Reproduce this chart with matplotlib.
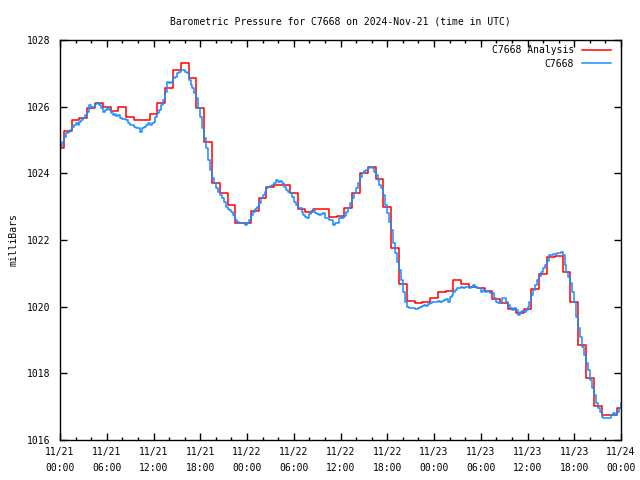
import matplotlib
matplotlib.use("Agg")
import matplotlib.pyplot as plt
import numpy as np

# ---- data (hours since 2024-11-21 00:00 UTC) ----
analysis_hours = list(range(0, 73))
analysis_values = [
    1024.75, 1025.28, 1025.59, 1025.65, 1025.95, 1026.12, 1025.98, 1025.87, 1025.98, 1025.70,
    1025.59, 1025.59, 1025.77, 1026.12, 1026.55, 1027.09, 1027.31, 1026.85, 1025.97, 1024.93,
    1023.70, 1023.40, 1023.05, 1022.50, 1022.50, 1022.87, 1023.25, 1023.58, 1023.64, 1023.64,
    1023.40, 1022.92, 1022.85, 1022.92, 1022.92, 1022.68, 1022.73, 1022.95, 1023.40, 1024.00,
    1024.20, 1023.83, 1023.00, 1021.75, 1020.68, 1020.17, 1020.10, 1020.15, 1020.25, 1020.43,
    1020.48, 1020.79, 1020.67, 1020.60, 1020.57, 1020.47, 1020.22, 1020.12, 1019.92, 1019.82,
    1019.92, 1020.52, 1020.98, 1021.50, 1021.52, 1021.05, 1020.13, 1018.84, 1017.85, 1017.02,
    1016.75, 1016.75, 1016.95,
]

obs_step_hours = 0.25
obs_values = [
    1024.80, 1024.95, 1025.10, 1025.20, 1025.23, 1025.30, 1025.40, 1025.45, 1025.50, 1025.45,
    1025.55, 1025.60, 1025.65, 1025.75, 1025.85, 1026.05, 1026.00, 1026.00, 1026.07, 1026.10,
    1026.05, 1025.95, 1025.85, 1025.90, 1025.95, 1025.90, 1025.80, 1025.75, 1025.77, 1025.73,
    1025.75, 1025.65, 1025.63, 1025.63, 1025.60, 1025.50, 1025.45, 1025.45, 1025.40, 1025.35,
    1025.37, 1025.25, 1025.35, 1025.40, 1025.45, 1025.50, 1025.45, 1025.50, 1025.55, 1025.70,
    1025.80, 1025.90, 1026.05, 1026.20, 1026.45, 1026.75, 1026.70, 1026.75, 1026.85, 1026.90,
    1027.00, 1027.05, 1027.10, 1027.10, 1027.05, 1027.00, 1026.80, 1026.65, 1026.55, 1026.40,
    1026.25, 1025.95, 1025.70, 1025.35, 1025.05, 1024.75, 1024.40, 1024.10, 1023.85, 1023.70,
    1023.55, 1023.45, 1023.35, 1023.25, 1023.15, 1023.00, 1022.93, 1022.90, 1022.85, 1022.75,
    1022.60, 1022.55, 1022.50, 1022.50, 1022.50, 1022.45, 1022.50, 1022.60, 1022.75, 1022.85,
    1022.93, 1023.00, 1023.10, 1023.25, 1023.35, 1023.45, 1023.55, 1023.60, 1023.63, 1023.65,
    1023.70, 1023.80, 1023.75, 1023.77, 1023.70, 1023.60, 1023.50, 1023.45, 1023.40, 1023.30,
    1023.15, 1023.05, 1022.95, 1022.95, 1022.85, 1022.75, 1022.70, 1022.65, 1022.77, 1022.87,
    1022.90, 1022.80, 1022.77, 1022.75, 1022.77, 1022.80, 1022.65, 1022.65, 1022.60, 1022.60,
    1022.45, 1022.50, 1022.50, 1022.65, 1022.68, 1022.65, 1022.73, 1022.85, 1022.95, 1023.10,
    1023.25, 1023.40, 1023.55, 1023.70, 1023.90, 1024.00, 1024.07, 1024.10, 1024.17, 1024.20,
    1024.15, 1024.05, 1023.95, 1023.80, 1023.65, 1023.55, 1023.35, 1023.05, 1022.80, 1022.55,
    1022.30, 1021.90, 1021.60, 1021.35, 1021.10, 1020.80, 1020.45, 1020.15, 1020.00, 1019.97,
    1019.95, 1019.95, 1019.93, 1019.93, 1019.95, 1020.00, 1020.03, 1020.05, 1020.03, 1020.07,
    1020.10, 1020.15, 1020.15, 1020.15, 1020.17, 1020.15, 1020.17, 1020.20, 1020.23, 1020.15,
    1020.30, 1020.35, 1020.45, 1020.50, 1020.55, 1020.57, 1020.60, 1020.55, 1020.60, 1020.60,
    1020.55, 1020.60, 1020.65, 1020.60, 1020.55, 1020.57, 1020.45, 1020.50, 1020.45, 1020.48,
    1020.45, 1020.42, 1020.40, 1020.25, 1020.15, 1020.12, 1020.15, 1020.27, 1020.25, 1020.15,
    1020.05, 1019.95, 1019.90, 1019.95, 1019.90, 1019.75, 1019.85, 1019.88, 1019.85, 1019.90,
    1020.00, 1020.15, 1020.35, 1020.50, 1020.65, 1020.80, 1020.92, 1021.05, 1021.15, 1021.25,
    1021.38, 1021.55, 1021.55, 1021.58, 1021.58, 1021.60, 1021.62, 1021.65, 1021.55, 1021.25,
    1021.05, 1020.90, 1020.70, 1020.45, 1020.15, 1019.70, 1019.35, 1019.10, 1018.80, 1018.55,
    1018.30, 1018.10, 1017.80, 1017.55, 1017.35, 1017.10, 1016.95, 1016.85, 1016.70, 1016.65,
    1016.65, 1016.65, 1016.65, 1016.75, 1016.80, 1016.75, 1016.85, 1016.95, 1017.10,
]
obs_hours = [i * obs_step_hours for i in range(len(obs_values))]

xtick_hours = [0, 6, 12, 18, 24, 30, 36, 42, 48, 54, 60, 66, 72]
xtick_labels = ["11/21\n00:00", "11/21\n06:00", "11/21\n12:00", "11/21\n18:00",
                "11/22\n00:00", "11/22\n06:00", "11/22\n12:00", "11/22\n18:00",
                "11/23\n00:00", "11/23\n06:00", "11/23\n12:00", "11/23\n18:00",
                "11/24\n00:00"]
ytick_values = [1016, 1018, 1020, 1022, 1024, 1026, 1028]

title = "Barometric Pressure for C7668 on 2024-Nov-21 (time in UTC)"
ylabel = "milliBars"
series_names = ["C7668 Analysis", "C7668"]

# ---- plot ----
plt.rcParams['font.family'] = ['DejaVu Sans Mono']
FS = 7

fig = plt.figure(figsize=(6.4, 4.8), dpi=100)
ax = fig.add_axes([60/640, 40/480, 561/640, 400/480])

ax.plot(analysis_hours, analysis_values, drawstyle='steps-mid', color='#ff0000',
        lw=1.1, label=series_names[0])
ax.plot(obs_hours, obs_values, drawstyle='steps-post', color='#1a8cff',
        lw=1.1, label=series_names[1])

ax.set_xlim(0, 72)
ax.set_ylim(1016, 1028)
ax.set_xticks(xtick_hours)
ax.set_xticklabels(xtick_labels, fontsize=FS, linespacing=1.7)
ax.set_xticks(np.arange(0, 73, 2), minor=True)
ax.set_yticks(ytick_values)
ax.set_yticklabels([str(v) for v in ytick_values], fontsize=FS)

ax.tick_params(which='both', direction='in', top=True, right=True, width=1)
ax.tick_params(which='major', length=5)
ax.tick_params(axis='x', which='major', pad=5)
ax.tick_params(axis='y', which='major', pad=7)
ax.tick_params(which='minor', length=2.5)
for s in ax.spines.values():
    s.set_linewidth(1)

ax.set_title(title, fontsize=FS, pad=11)
ax.set_ylabel(ylabel, fontsize=FS, labelpad=6)

leg = ax.legend(loc='upper right', bbox_to_anchor=(1 - 6/561, 1 - 1.5/400),
                frameon=False, fontsize=FS, markerfirst=False,
                handlelength=3.0, handletextpad=0.8, borderaxespad=0.0,
                labelspacing=0.35)
for t in leg.get_texts():
    t.set_ha('right')
leg._legend_box.align = 'right'

fig.savefig('out.png', dpi=100)
